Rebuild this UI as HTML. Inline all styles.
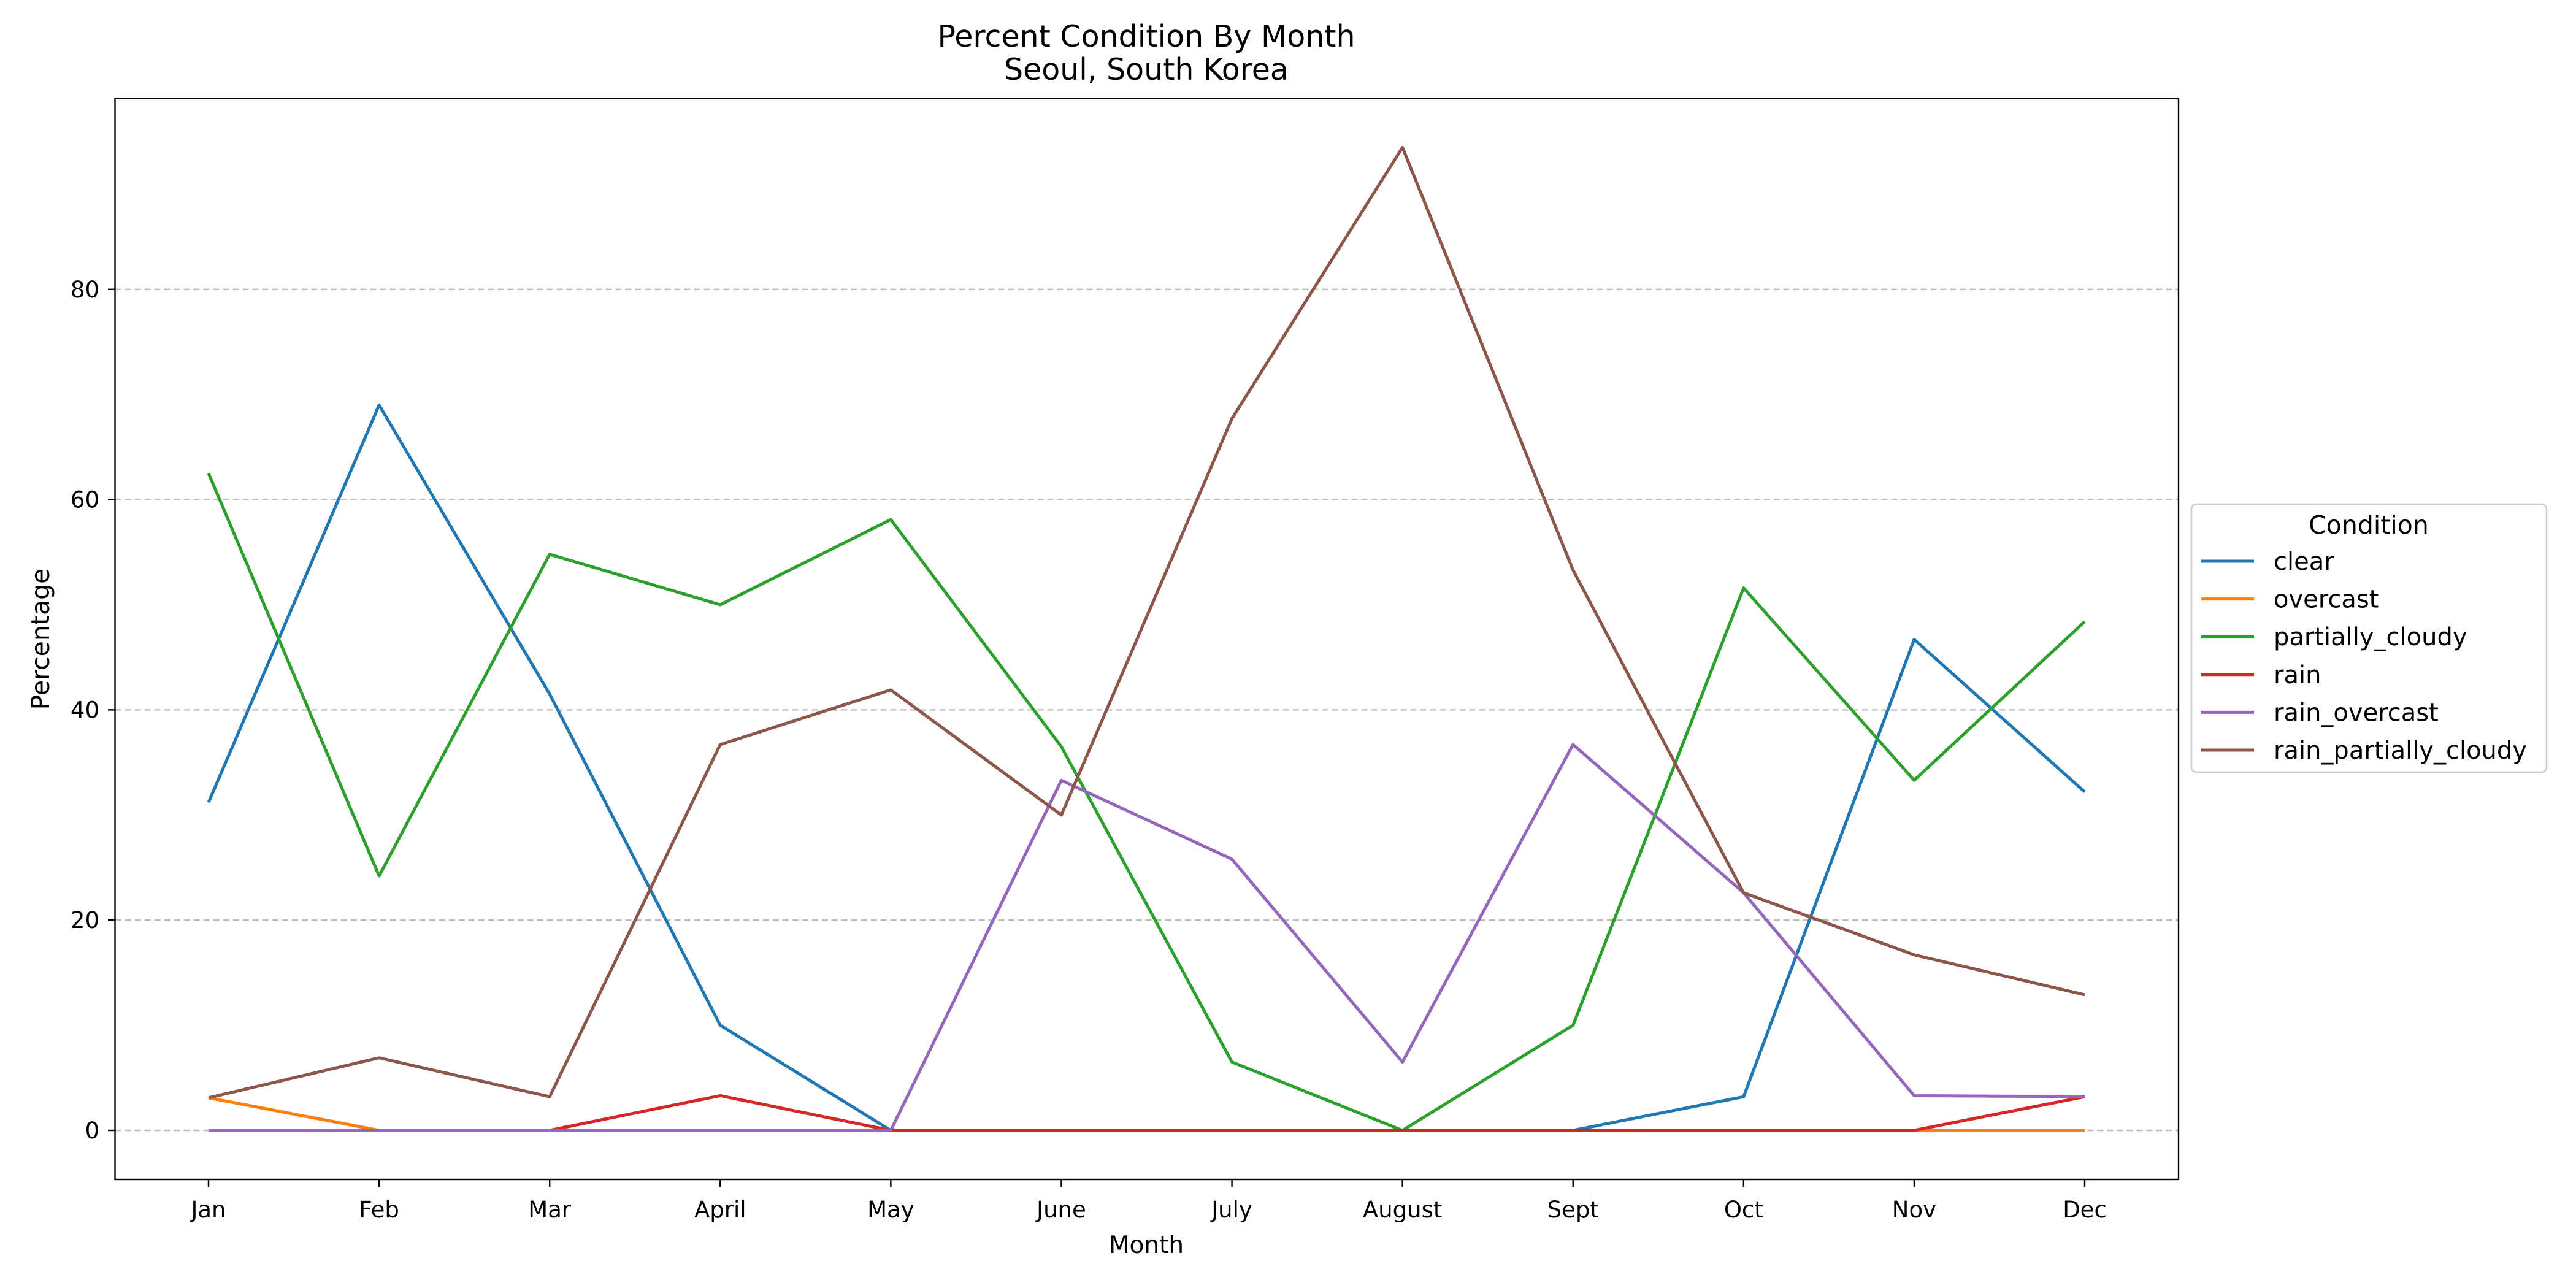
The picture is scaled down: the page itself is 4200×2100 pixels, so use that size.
<!DOCTYPE html>
<html><head><meta charset="utf-8"><style>
html,body{margin:0;padding:0;background:#fff}
svg{display:block;font-family:"DejaVu Sans","Liberation Sans",sans-serif}
</style></head><body>
<svg id="chart" width="4200" height="2100" viewBox="0 0 4200 2100">
<rect width="4200" height="2100" fill="#fff"/>
<text x="1869" y="76" font-size="49" text-anchor="middle">Percent Condition By Month</text>
<text x="1869" y="130" font-size="49" text-anchor="middle">Seoul, South Korea</text>
<g id="grid"></g>
<g id="series"></g>
<rect x="187.5" y="160.7" width="3364.5" height="1762.3" fill="none" stroke="#000" stroke-width="2.4"/>
<g id="ticks"></g>
<text x="1869" y="2043" font-size="39" text-anchor="middle">Month</text>
<text x="80" y="1042" font-size="41" text-anchor="middle" transform="rotate(-90 80 1042)">Percentage</text>
<g id="legend">
<rect x="3573" y="822" width="579" height="437" rx="8" fill="#fff" stroke="#ccc" stroke-width="2.5"/>
<text x="3862" y="870" font-size="41" text-anchor="middle">Condition</text>
</g>
</svg>
<script>
const months = ["Jan","Feb","Mar","April","May","June","July","August","Sept","Oct","Nov","Dec"];
const yTicks = [0,20,40,60,80];
const seriesNames = ["clear","overcast","partially_cloudy","rain","rain_overcast","rain_partially_cloudy"];
const colors = ["#1f77b4","#ff7f0e","#2ca02c","#d62728","#9467bd","#8c564b"];
const clear = [31.2,69,41.5,10,0,0,0,0,0,3.2,46.7,32.2];
const overcast = [3.1,0,0,0,0,0,0,0,0,0,0,0];
const partially_cloudy = [62.5,24.2,54.8,50,58.1,36.5,6.5,0,10,51.6,33.3,48.4];
const rain = [0,0,0,3.3,0,0,0,0,0,0,0,3.2];
const rain_overcast = [0,0,0,0,0,33.3,25.8,6.5,36.7,22.6,3.3,3.2];
const rain_partially_cloudy = [3.1,6.9,3.2,36.7,41.9,30,67.7,93.5,53.3,22.6,16.7,12.9];
const allSeries = [clear,overcast,partially_cloudy,rain,rain_overcast,rain_partially_cloudy];

const NS="http://www.w3.org/2000/svg";
const xS = i => 340 + i*(3399-340)/11;
const yS = v => 1843 - v*17.14;
function mk(tag, attrs, parent){const e=document.createElementNS(NS,tag);for(const k in attrs)e.setAttribute(k,attrs[k]);parent.appendChild(e);return e;}
const grid=document.getElementById('grid'), ticks=document.getElementById('ticks'), ser=document.getElementById('series'), leg=document.getElementById('legend');
yTicks.forEach(t=>{
  const y=yS(t);
  const g=mk('line',{x1:187.5,x2:3552,y1:y,y2:y,stroke:'#bbb','stroke-width':2.4,'stroke-dasharray':'10,6'},grid);
  
  
  const tk=mk('line',{x1:176,x2:187.5,y1:y,y2:y,stroke:'#000','stroke-width':2.4},ticks);
  
  
  const tx=mk('text',{x:162,y:y+13,'font-size':37,'text-anchor':'end'},ticks);
  tx.textContent=t;
  
  
});
months.forEach((m,i)=>{
  const x=xS(i);
  const tk=mk('line',{x1:x,x2:x,y1:1923,y2:1935,stroke:'#000','stroke-width':2.4},ticks);
  
  
  const tx=mk('text',{x:x,y:1985,'font-size':37,'text-anchor':'middle'},ticks);
  tx.textContent=m;
  
  
});
allSeries.forEach((arr,s)=>{
  const p=mk('polyline',{points:arr.map((v,i)=>xS(i)+','+yS(v)).join(' '),fill:'none',stroke:colors[s],'stroke-width':5,'stroke-linejoin':'round'},ser);
  
  
  const ly=915+s*61.6;
  const ll=mk('line',{x1:3589,x2:3675,y1:ly,y2:ly,stroke:colors[s],'stroke-width':5},leg);
  
  
  const lt=mk('text',{x:3707,y:ly+14,'font-size':40},leg);
  lt.textContent=seriesNames[s];
  
  
});
</script>
</body></html>
